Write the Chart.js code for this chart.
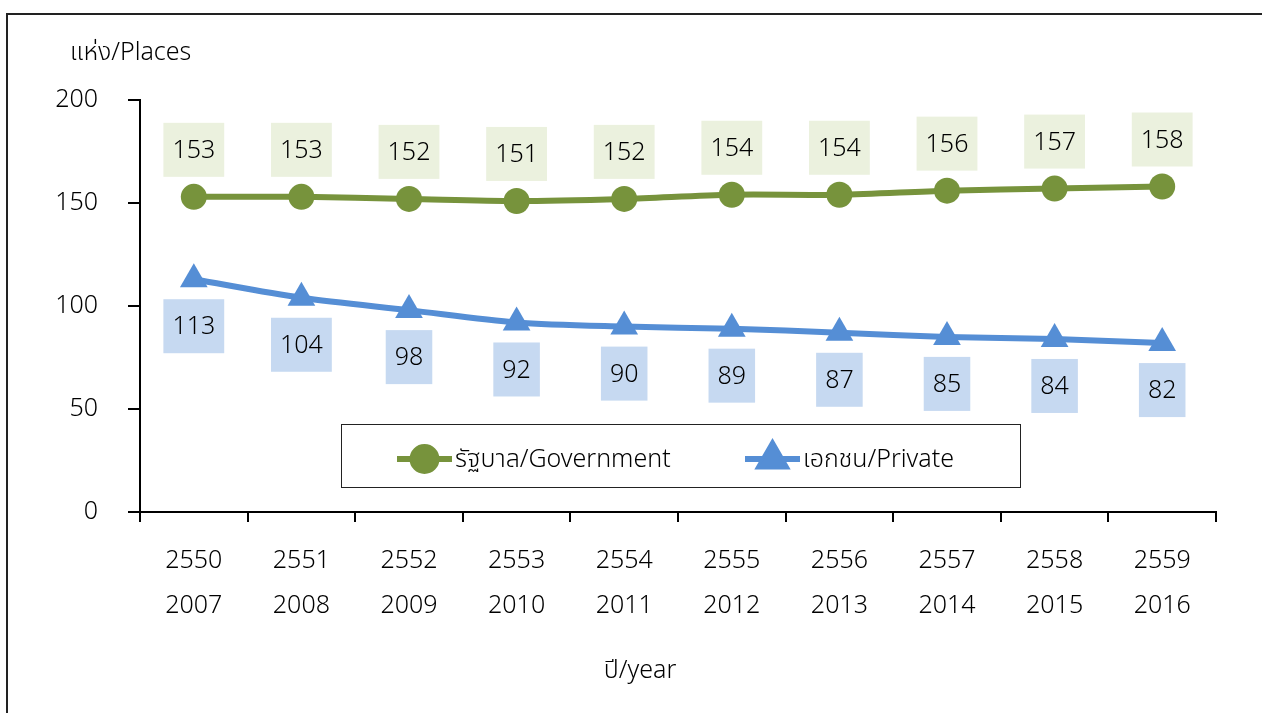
<!DOCTYPE html>
<html><head><meta charset="utf-8">
<script src="https://cdn.jsdelivr.net/npm/chart.js@4.4.1/dist/chart.umd.min.js"></script>
<style>
html,body{margin:0;padding:0;background:#fff;}
#wrap{position:relative;width:1262px;height:713px;overflow:hidden;}
#frame{position:absolute;left:6px;top:13px;width:1400px;height:900px;border:2px solid #222;box-sizing:border-box;}
canvas{position:absolute;left:0;top:0;}
</style></head><body>
<div id="wrap"><div id="frame"></div><canvas id="c" width="1262" height="713"></canvas></div>
<script>
const yearsBE = ['2550','2551','2552','2553','2554','2555','2556','2557','2558','2559'];
const yearsCE = ['2007','2008','2009','2010','2011','2012','2013','2014','2015','2016'];
const government = [153,153,152,151,152,154,154,156,157,158];
const privateSector = [113,104,98,92,90,89,87,85,84,82];
const seriesNames = ['รัฐบาล/Government','เอกชน/Private'];
const yTitle = 'แห่ง/Places';
const xTitle = 'ปี/year';

const FONT = '"Noto Sans", "Noto Sans Thai", "DejaVu Sans", sans-serif';
const W = '300';
Chart.defaults.font.family = FONT;
Chart.defaults.font.weight = W;
Chart.defaults.color = '#000';

const labels = yearsBE.map((b,i)=>[b, yearsCE[i]]);

const valueLabels = {
  id:'valueLabels',
  afterDatasetsDraw(chart){
    const ctx = chart.ctx;
    ctx.save();
    chart.data.datasets.forEach((ds,i)=>{
      const meta = chart.getDatasetMeta(i);
      meta.data.forEach((pt,j)=>{
        const txt = String(ds.data[j]);
        ctx.font = W + ' 25px ' + FONT;
        const w = ctx.measureText(txt).width + 18, h = 54;
        const cy = ds.labelSide === 'above' ? pt.y - 47 : pt.y + 47;
        ctx.fillStyle = ds.labelBg;
        ctx.fillRect(pt.x - w/2, cy - h/2, w, h);
        ctx.fillStyle = '#000';
        ctx.textAlign = 'center';
        ctx.textBaseline = 'middle';
        ctx.fillText(txt, pt.x, cy + 1);
      });
    });
    ctx.restore();
  }
};

const extras = {
  id:'extras',
  afterDraw(chart){
    const ctx = chart.ctx;
    const ca = chart.chartArea;
    ctx.save();
    ctx.font = W + ' 25px ' + FONT;
    ctx.fillStyle = '#000';
    ctx.textBaseline = 'middle';
    ctx.textAlign = 'left';
    ctx.fillText(yTitle, ca.left - 70, 53);
    ctx.textAlign = 'center';
    ctx.fillText(xTitle, chart.width/2 + 9, 671);
    // legend
    const lx = ca.left + 201, ly = ca.top + 324, lw = 679, lh = 63;
    ctx.fillStyle = '#fff';
    ctx.fillRect(lx, ly, lw, lh);
    ctx.strokeStyle = '#222';
    ctx.lineWidth = 1;
    ctx.strokeRect(lx + 0.5, ly + 0.5, lw, lh);
    const items = [{x0: lx + 56}, {x0: lx + 404}];
    const cy = ly + 35;
    chart.data.datasets.forEach((ds,i)=>{
      const x0 = items[i].x0;
      ctx.strokeStyle = ds.borderColor;
      ctx.lineWidth = 6;
      ctx.beginPath(); ctx.moveTo(x0, cy); ctx.lineTo(x0 + 55, cy); ctx.stroke();
      Chart.helpers.drawPoint(ctx, {pointStyle: ds.pointStyle, radius: ds.pointStyle==='triangle'?15:12, borderWidth:1, rotation:0}, x0 + 27.5, cy);
      ctx.fillStyle = ds.borderColor;
      ctx.fill();
      ctx.fillStyle = '#000';
      ctx.textAlign = 'left';
      ctx.font = W + ' 25px ' + FONT;
      ctx.fillText(ds.label, x0 + 58, cy + 1);
    });
    ctx.restore();
  }
};

new Chart(document.getElementById('c'), {
  type:'line',
  data:{
    labels: labels,
    datasets:[
      {label: seriesNames[0], data: government, borderColor:'#77933C', backgroundColor:'#77933C',
       borderWidth:6, pointStyle:'circle', pointRadius:13, pointBorderWidth:0, tension:0.3,
       labelSide:'above', labelBg:'#EBF1DE'},
      {label: seriesNames[1], data: privateSector, borderColor:'#558ED5', backgroundColor:'#558ED5',
       borderWidth:6, pointStyle:'triangle', pointRadius:16, pointBorderWidth:0, tension:0.3,
       labelSide:'below', labelBg:'#C6D9F1'}
    ]
  },
  options:{
    responsive:false, animation:false, devicePixelRatio:1,
    layout:{padding:{top:100, right:46, bottom:0, left:0}},
    plugins:{legend:{display:false}, tooltip:{enabled:false}},
    scales:{
      x:{
        offset:true,
        grid:{display:true, drawOnChartArea:false, drawTicks:true, tickLength:10, color:'#000', lineWidth:2, offset:true},
        border:{display:true, color:'#000', width:2},
        ticks:{font:{size:25, lineHeight:1.8, weight:W}, padding:16, maxRotation:0, autoSkip:false, color:'#000'},
        afterFit(s){ s.height = 201; }
      },
      y:{
        min:0, max:200,
        grid:{display:true, drawOnChartArea:false, drawTicks:true, tickLength:12, color:'#000', lineWidth:2},
        border:{display:true, color:'#000', width:2},
        ticks:{stepSize:50, font:{size:25, weight:W}, padding:30, color:'#000'},
        afterFit(s){ s.width = 140; }
      }
    }
  },
  plugins:[valueLabels, extras]
});
</script>
</body></html>
